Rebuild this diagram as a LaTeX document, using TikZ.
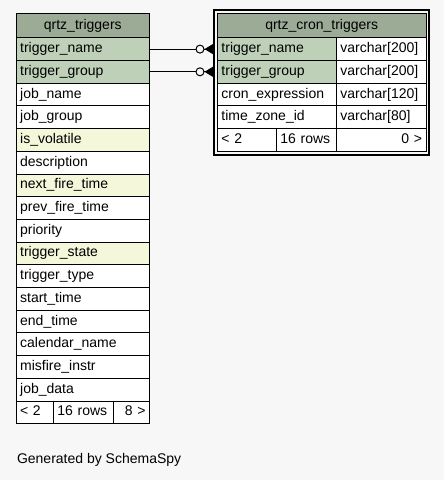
\documentclass[tikz,border=0pt]{standalone}
\usepackage{fontspec}
\setmainfont{Liberation Sans}
\usetikzlibrary{arrows.meta,fit}
\definecolor{bg}{HTML}{F7F7F7}
\definecolor{hdr}{HTML}{9BAB96}
\definecolor{pk}{HTML}{BED1B8}
\definecolor{idx}{HTML}{F4F7DA}

\begin{document}
\begin{tikzpicture}[x=1pt,y=-1pt,
	cell/.style={draw=black,line width=0.9pt,anchor=north west,inner xsep=4pt,inner ysep=0pt,
		minimum height=22.7pt,text height=10pt,text depth=3pt,align=left,
		font=\fontsize{14}{16}\selectfont},
	head/.style={cell,fill=hdr,minimum height=24pt,align=center},
	fk/.style={line width=1pt,
		-{Circle[length=9pt,fill=bg,sep=0pt]Triangle[reversed,length=8.5pt,width=10pt,sep=0pt]}}]
		\fill[bg] (0,0) rectangle (444,480);
		% qrtz_triggers
		\node[head,text width=125.3pt] (lh) at (15.7,13.3) {qrtz\_triggers};
		\foreach \name/\col [count=\i] in {trigger\_name/pk,trigger\_group/pk,job\_name/white,
			job\_group/white,is\_volatile/idx,description/white,next\_fire\_time/idx,
			prev\_fire\_time/white,priority/white,trigger\_state/idx,trigger\_type/white,
			start\_time/white,end\_time/white,calendar\_name/white,misfire\_instr/white,job\_data/white}
		\node[cell,fill=\col,text width=125.3pt] (lt\i) at (15.7,{37.3+(\i-1)*22.7}) {\name};
		\node[cell,fill=white,text width=29.3pt] (lf1) at (15.7,400.5) {< 2};
		\node[cell,fill=white,text width=52pt] (lf2) at (53,400.5) {16 rows};
		\node[cell,fill=white,text width=28pt,align=right] (lf3) at (113,400.5) {8 >};
		% qrtz_cron_triggers
		\node[head,text width=200.5pt] (rh) at (217,13.3) {qrtz\_cron\_triggers};
		\foreach \name/\type/\col [count=\i] in {trigger\_name/varchar[200]/pk,
			trigger\_group/varchar[200]/pk,cron\_expression/varchar[120]/white,
			time\_zone\_id/varchar[80]/white}
		{
		\node[cell,fill=\col,text width=111pt] (rt\i) at (217,{37.3+(\i-1)*22.7}) {\name};
		\node[cell,fill=white,text width=81.5pt] (ry\i) at (336,{37.3+(\i-1)*22.7}) {\type};
		}
		\node[cell,fill=white,text width=51pt] (rf1) at (217,128.1) {< 2};
		\node[cell,fill=white,text width=52pt] (rf2) at (276,128.1) {16 rows};
		\node[cell,fill=white,text width=81.5pt,align=right] (rf3) at (336,128.1) {0 >};
		\node[fit=(rh)(rf1)(rf3),inner sep=3pt,draw,line width=2pt] (rframe) {};
		% keys
		\draw[fk] (lt1.east) -- (lt1.east -| rframe.west);
		\draw[fk] (lt2.east) -- (lt2.east -| rframe.west);
		\node[anchor=base west,font=\fontsize{14}{16}\selectfont] (gen) at (13.5,463) {Generated by SchemaSpy};
	\end{tikzpicture}
\end{document}
